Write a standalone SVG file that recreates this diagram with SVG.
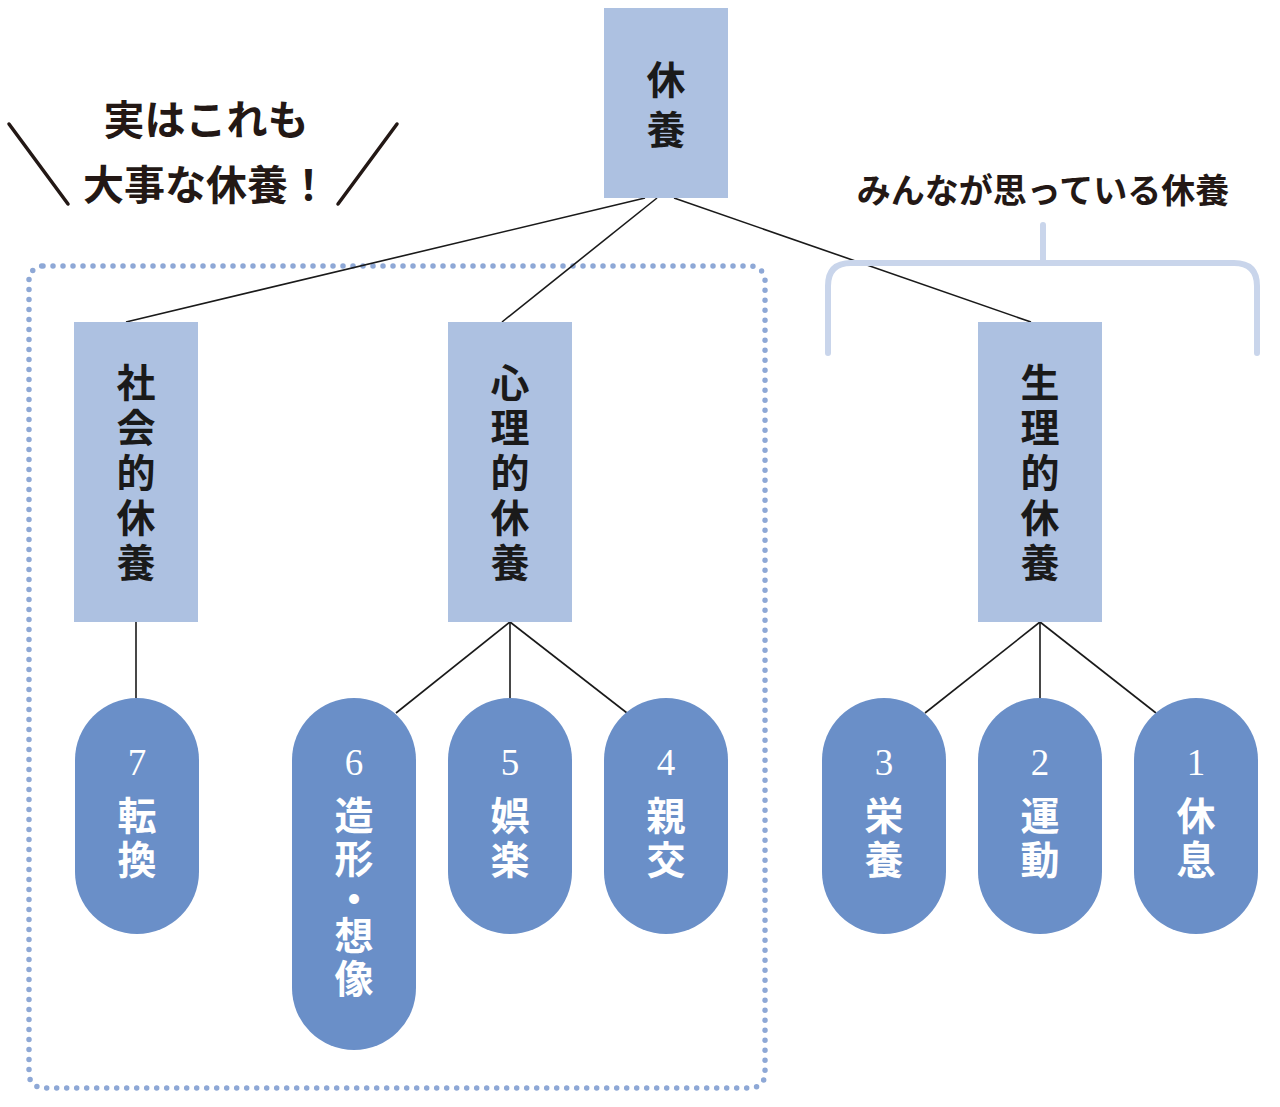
<svg xmlns="http://www.w3.org/2000/svg" width="1280" height="1107" viewBox="0 0 1280 1107">
<style>
.box{fill:#adc1e1}
.pill{fill:#6a8fc8}
.bt{font-family:"Noto Sans CJK JP","Noto Sans",sans-serif;font-weight:700;font-size:39px;fill:#1a1a1a;text-anchor:middle}
.pt{font-family:"Noto Sans CJK JP","Noto Sans",sans-serif;font-weight:700;font-size:39px;fill:#fff;text-anchor:middle}
.num{font-family:"Liberation Serif",serif;font-size:37px;fill:#fff;text-anchor:middle}
.note{font-family:"Noto Sans CJK JP","Noto Sans",sans-serif;font-weight:700;fill:#231815;text-anchor:middle}
.conn{stroke:#1a1a1a;stroke-width:1.6;fill:none}
</style>
<rect width="1280" height="1107" fill="#fff"/>
<g id="group-dotted">
<rect x="29" y="266" width="736" height="822" rx="14" fill="none" stroke="#8ea8d6" stroke-width="5.5" stroke-linecap="round" stroke-dasharray="0 10"/>
</g>
<g id="connectors">
<line class="conn" x1="645" y1="198" x2="126" y2="322"/>
<line class="conn" x1="657" y1="198" x2="502" y2="322"/>
<line class="conn" x1="674" y1="198" x2="1031" y2="322"/>
<line class="conn" x1="136" y1="622" x2="136" y2="698"/>
<line class="conn" x1="510" y1="622" x2="396" y2="713"/>
<line class="conn" x1="510" y1="622" x2="510" y2="698"/>
<line class="conn" x1="510" y1="622" x2="627" y2="713"/>
<line class="conn" x1="1040" y1="622" x2="925" y2="713"/>
<line class="conn" x1="1040" y1="622" x2="1040" y2="698"/>
<line class="conn" x1="1040" y1="622" x2="1156" y2="713"/>
</g>
<g id="annotation-left">
<line x1="9" y1="124" x2="68" y2="204" stroke="#231815" stroke-width="3.5" stroke-linecap="round"/>
<line x1="397" y1="124" x2="338" y2="204" stroke="#231815" stroke-width="3.5" stroke-linecap="round"/>
<text class="note" x="206" y="135" font-size="41">実はこれも</text>
<text class="note" x="206" y="200" font-size="41">大事な休養！</text>
</g>
<g id="annotation-right">
<text class="note" x="1043" y="203" font-size="34">みんなが思っている休養</text>
<path d="M1043 225 V263 M828 353 V286 Q828 263 851 263 H1234 Q1257 263 1257 286 V353" fill="none" stroke="#c9d5eb" stroke-width="6" stroke-linecap="round"/>
</g>
<g id="node-root">
<rect class="box" x="604" y="8" width="124" height="190"/>
<text class="bt" x="666" y="94">休</text>
<text class="bt" x="666" y="144">養</text>
</g>
<g id="node-social">
<rect class="box" x="74" y="322" width="124" height="300"/>
<text class="bt" x="136" y="397">社</text>
<text class="bt" x="136" y="442">会</text>
<text class="bt" x="136" y="487">的</text>
<text class="bt" x="136" y="532">休</text>
<text class="bt" x="136" y="577">養</text>
</g>
<g id="node-mental">
<rect class="box" x="448" y="322" width="124" height="300"/>
<text class="bt" x="510" y="397">心</text>
<text class="bt" x="510" y="442">理</text>
<text class="bt" x="510" y="487">的</text>
<text class="bt" x="510" y="532">休</text>
<text class="bt" x="510" y="577">養</text>
</g>
<g id="node-physical">
<rect class="box" x="978" y="322" width="124" height="300"/>
<text class="bt" x="1040" y="397">生</text>
<text class="bt" x="1040" y="442">理</text>
<text class="bt" x="1040" y="487">的</text>
<text class="bt" x="1040" y="532">休</text>
<text class="bt" x="1040" y="577">養</text>
</g>
<g id="node-7">
<rect class="pill" x="75" y="698" width="124" height="236" rx="62"/>
<text class="num" x="137" y="775">7</text>
<text class="pt" x="137" y="830">転</text>
<text class="pt" x="137" y="874">換</text>
</g>
<g id="node-6">
<rect class="pill" x="292" y="698" width="124" height="352" rx="62"/>
<text class="num" x="354" y="775">6</text>
<text class="pt" x="354" y="830">造</text>
<text class="pt" x="354" y="873">形</text>
<text class="pt" x="354" y="913">・</text>
<text class="pt" x="354" y="950">想</text>
<text class="pt" x="354" y="993">像</text>
</g>
<g id="node-5">
<rect class="pill" x="448" y="698" width="124" height="236" rx="62"/>
<text class="num" x="510" y="775">5</text>
<text class="pt" x="510" y="830">娯</text>
<text class="pt" x="510" y="874">楽</text>
</g>
<g id="node-4">
<rect class="pill" x="604" y="698" width="124" height="236" rx="62"/>
<text class="num" x="666" y="775">4</text>
<text class="pt" x="666" y="830">親</text>
<text class="pt" x="666" y="874">交</text>
</g>
<g id="node-3">
<rect class="pill" x="822" y="698" width="124" height="236" rx="62"/>
<text class="num" x="884" y="775">3</text>
<text class="pt" x="884" y="830">栄</text>
<text class="pt" x="884" y="874">養</text>
</g>
<g id="node-2">
<rect class="pill" x="978" y="698" width="124" height="236" rx="62"/>
<text class="num" x="1040" y="775">2</text>
<text class="pt" x="1040" y="830">運</text>
<text class="pt" x="1040" y="874">動</text>
</g>
<g id="node-1">
<rect class="pill" x="1134" y="698" width="124" height="236" rx="62"/>
<text class="num" x="1196" y="775">1</text>
<text class="pt" x="1196" y="830">休</text>
<text class="pt" x="1196" y="874">息</text>
</g>
</svg>
